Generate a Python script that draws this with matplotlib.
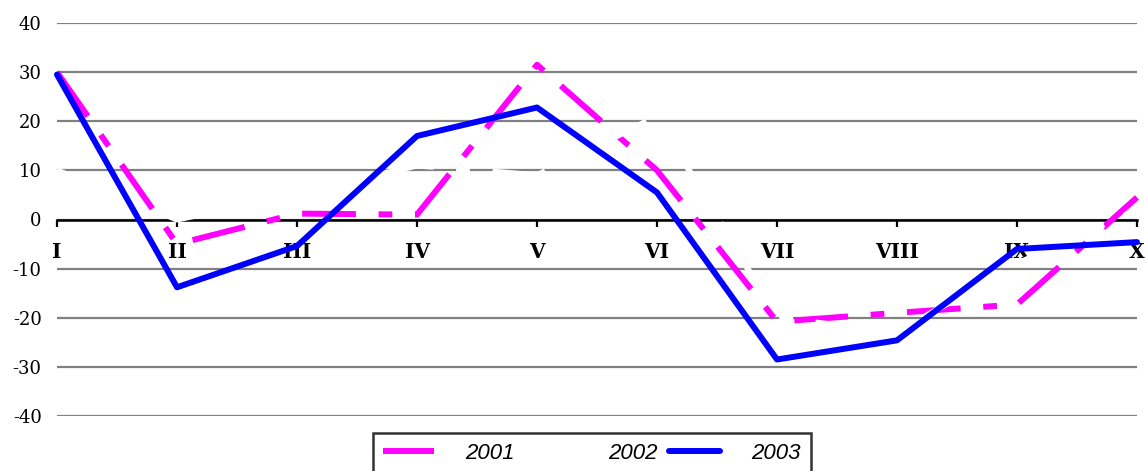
import numpy as np
import matplotlib
matplotlib.use("Agg")
import matplotlib.pyplot as plt

# data
months = ["I", "II", "III", "IV", "V", "VI", "VII", "VIII", "IX", "X"]
y2001 = [30, -5, 1.2, 1, 31.5, 10, -20.8, -19, -17.3, 4.5]
y2002 = [10, 0, 5, 11, 9, 21, -20, -23, -9, 2]
y2003 = [29.5, -13.8, -5.4, 17, 22.8, 5.5, -28.5, -24.6, -6, -4.6]
yticks = [-40, -30, -20, -10, 0, 10, 20, 30, 40]

W, H = 1146, 471
fig = plt.figure(figsize=(W / 100, H / 100), dpi=100)
ax = fig.add_axes([57 / W, 1 - 416 / H, (1137 - 57) / W, (416 - 23) / H])

x = np.arange(len(months))
lw = 4.3
dash = (9, 3.8, 2.3, 3.8)

l1, = ax.plot(x, y2001, color="#ff00ff", lw=lw, label="2001", zorder=3,
              clip_on=False, dash_capstyle="butt")
l1.set_dashes(dash)
l2, = ax.plot(x, y2002, color="white", lw=lw, label="2002", zorder=4,
              clip_on=False, dash_capstyle="butt")
l2.set_dashes(dash)
l3, = ax.plot(x, y2003, color="#0000ff", lw=lw, label="2003", zorder=5,
              clip_on=False, solid_joinstyle="round", solid_capstyle="round")

ax.set_xlim(0, 9)
ax.set_ylim(-40, 40)

# gridlines
ax.set_yticks(yticks, [str(v) for v in yticks], family="DejaVu Serif", fontsize=13)
ax.yaxis.grid(True, color="#808080", lw=1.6)
ax.set_axisbelow(True)
ax.tick_params(axis="y", length=0, pad=11)

# category axis sits at zero
for s in ["left", "right", "top"]:
    ax.spines[s].set_visible(False)
ax.spines["bottom"].set_position(("data", 0))
ax.spines["bottom"].set_linewidth(1.8)
ax.spines["bottom"].set_zorder(2.5)
ax.set_xticks(x, months, family="DejaVu Serif", fontsize=14.5, fontweight="bold")
ax.tick_params(axis="x", direction="out", length=5, width=1.6, pad=11)

leg = fig.legend(handles=[l1, l2, l3], loc="upper center",
                 bbox_to_anchor=(592 / W, 1 - 433 / H), ncol=3,
                 prop={"family": "Liberation Sans", "style": "italic", "size": 16},
                 handlelength=2.3, handletextpad=1.4, columnspacing=0.5,
                 borderpad=0.45, borderaxespad=0, fancybox=False, frameon=True)
leg.get_frame().set_edgecolor("black")
leg.get_frame().set_linewidth(1.8)

fig.savefig("out.png", dpi=100)
